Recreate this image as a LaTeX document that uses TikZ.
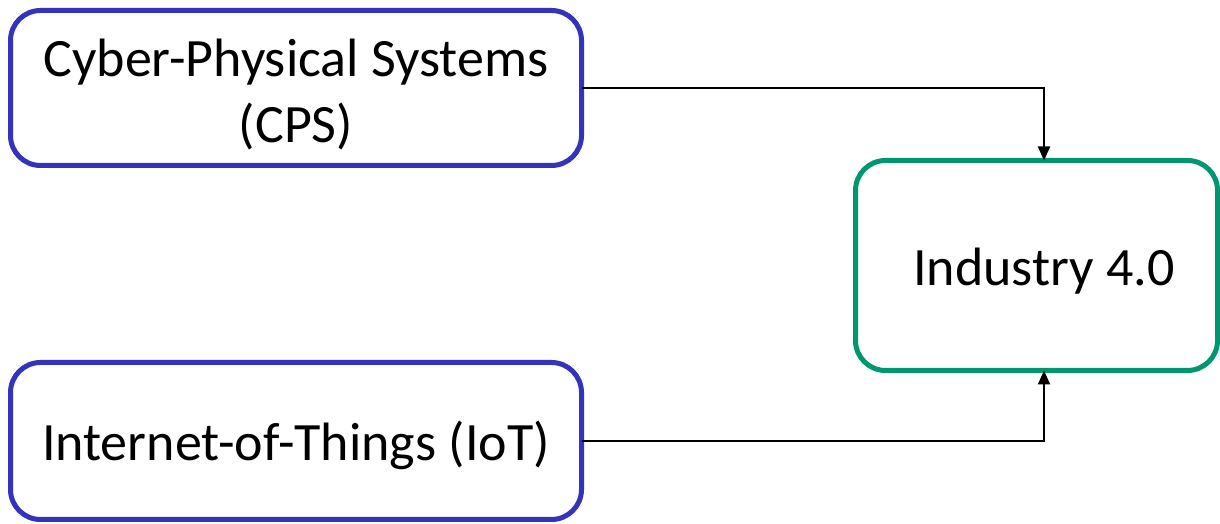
\documentclass[tikz,border=0pt]{standalone}
\usepackage{fontspec}
\setmainfont{Carlito}
\usetikzlibrary{arrows.meta}
\definecolor{boxblue}{HTML}{3333BB}
\definecolor{boxgreen}{HTML}{009670}
\begin{document}
\begin{tikzpicture}[x=1pt,y=1pt,
  box/.style={draw=#1, line width=5pt, rounded corners=30pt, fill=white,
    inner sep=0pt, outer sep=0pt},
  lbl/.style={text=black, font=\fontsize{54}{66}\selectfont, align=center,
    inner sep=0pt},
  link/.style={line width=2pt, -{Triangle[length=14pt,width=12pt]}}]
\useasboundingbox (0,0) rectangle (1220,524);
% source boxes on the left
\node[box=boxblue, minimum width=571pt, minimum height=155pt] (cps) at (296,436) {};
\node[lbl] (cpstext) at ([yshift=-7pt]cps.center) {Cyber-Physical Systems\\(CPS)};
\node[box=boxblue, minimum width=571pt, minimum height=157pt] (iot) at (296,83) {};
\node[lbl] (iottext) at ([yshift=-4pt]iot.center) {Internet-of-Things (IoT)};
% target box on the right
\node[box=boxgreen, minimum width=362pt, minimum height=210pt] (ind) at (1036.5,258.5) {};
\node[lbl] (indtext) at (1044,253) {Industry 4.0};
% connectors
\draw[link] (cps.east) -| (ind.north -| indtext);
\draw[link] (iot.east) -| (ind.south -| indtext);
\end{tikzpicture}
\end{document}
